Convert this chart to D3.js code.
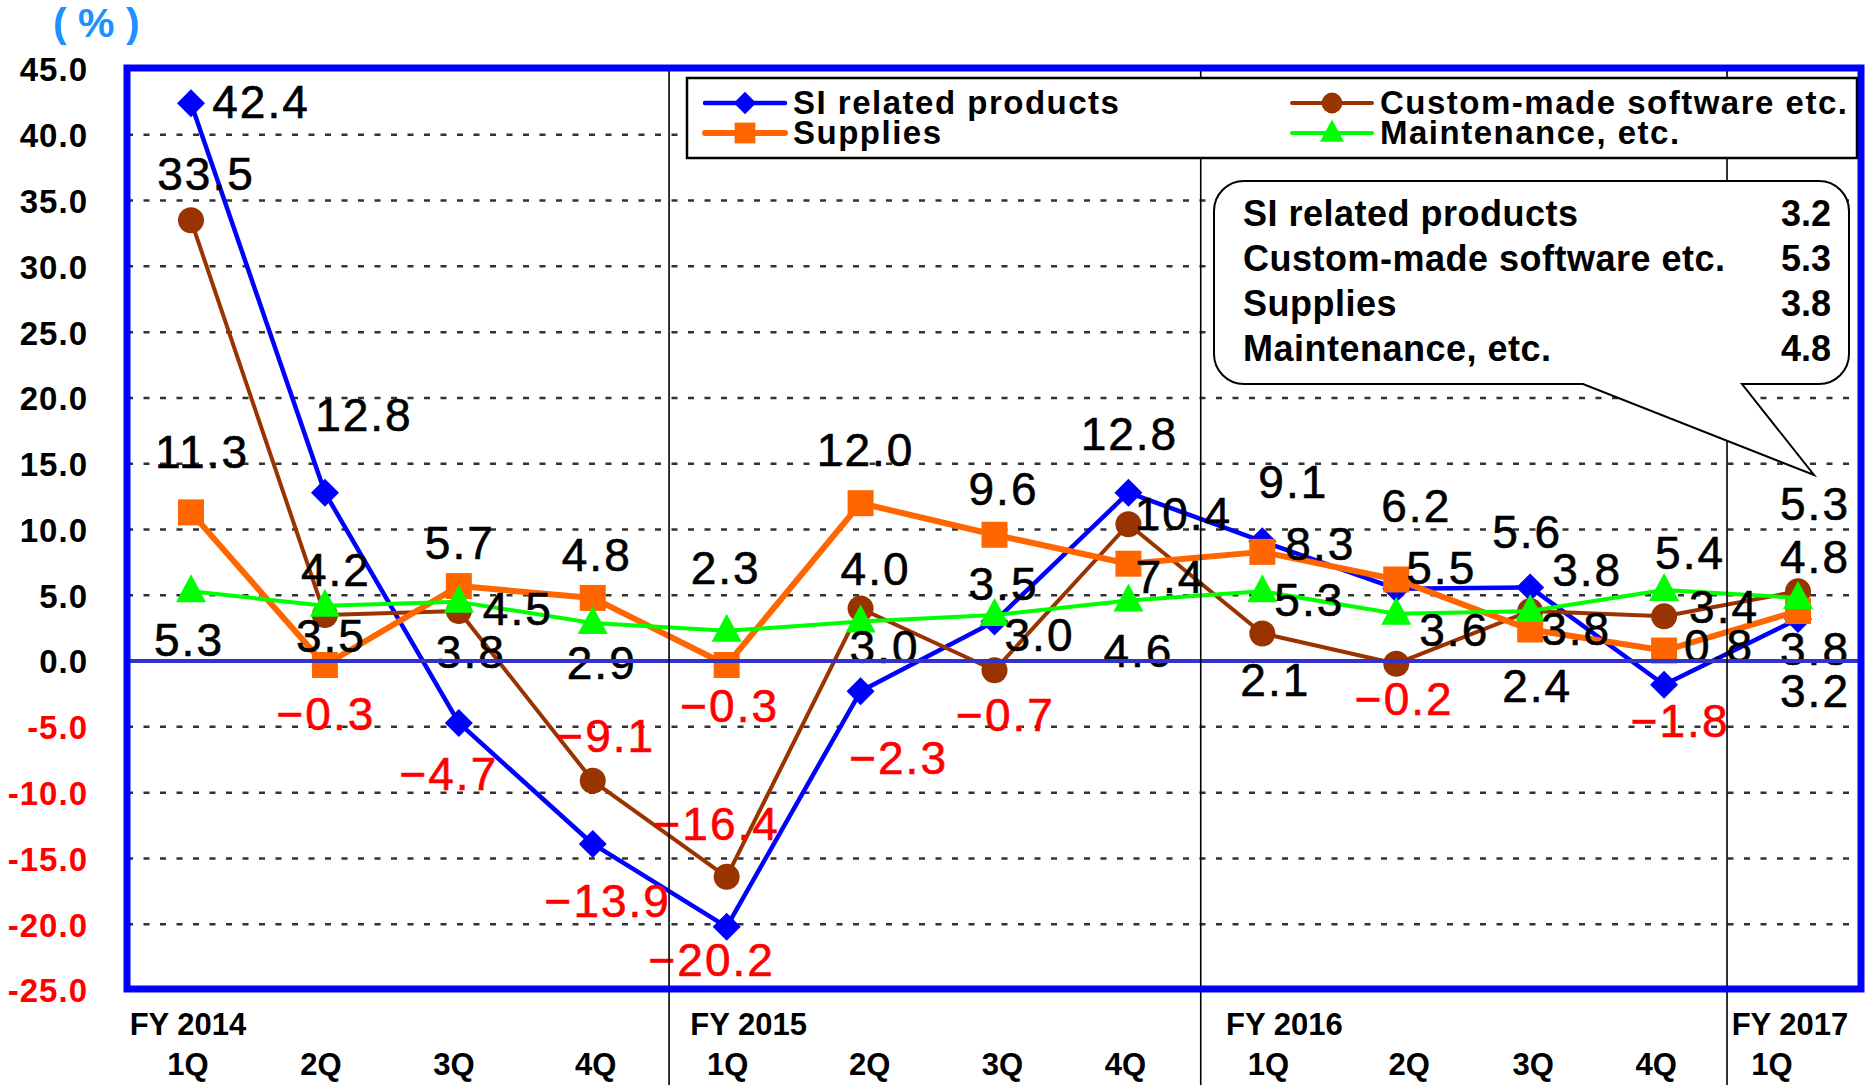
<!DOCTYPE html>
<html lang="en">
	<head>
		<meta charset="utf-8">
		<title>Sales growth by product (YoY, %)</title>
		<script src="https://d3js.org/d3.v7.min.js"></script>
		<style type="text/css">
			body {
				margin: 0;
				background: #fff;
			}
			svg {
				display: block;
				font-family: "Liberation Sans", Arial, sans-serif;
			}
		</style>
	</head>
	<body>
		<script type="text/javascript">
			//Quarters on the x axis
			var periods = ["FY 2014 1Q", "FY 2014 2Q", "FY 2014 3Q", "FY 2014 4Q",
				"FY 2015 1Q", "FY 2015 2Q", "FY 2015 3Q", "FY 2015 4Q",
				"FY 2016 1Q", "FY 2016 2Q", "FY 2016 3Q", "FY 2016 4Q",
				"FY 2017 1Q"];
			var quarterLabels = ["1Q", "2Q", "3Q", "4Q", "1Q", "2Q", "3Q", "4Q", "1Q", "2Q", "3Q", "4Q", "1Q"];
			var fiscalYears = ["FY 2014", "FY 2015", "FY 2016", "FY 2017"];
			var yearStarts = ["FY 2014 1Q", "FY 2015 1Q", "FY 2016 1Q", "FY 2017 1Q"];

			//Year on year change, %
			var siRelated = [42.4, 12.8, -4.7, -13.9, -20.2, -2.3, 3.0, 12.8, 9.1, 5.5, 5.6, -1.8, 3.2];
			var customMade = [33.5, 3.5, 3.8, -9.1, -16.4, 4.0, -0.7, 10.4, 2.1, -0.2, 3.8, 3.4, 5.3];
			var supplies = [11.3, -0.3, 5.7, 4.8, -0.3, 12.0, 9.6, 7.4, 8.3, 6.2, 2.4, 0.8, 3.8];
			var maintenance = [5.3, 4.2, 4.5, 2.9, 2.3, 3.0, 3.5, 4.6, 5.3, 3.6, 3.8, 5.4, 4.8];
			var seriesNames = ["SI related products", "Custom-made software etc.", "Supplies", "Maintenance, etc."];

			var yTickValues = [-25, -20, -15, -10, -5, 0, 5, 10, 15, 20, 25, 30, 35, 40, 45];
			var gridValues = [-20, -15, -10, -5, 5, 10, 15, 20, 25, 30, 35, 40];

			//Where each data label sits, relative to its point (dx, dy)
			var siNudge = [[70,-2],[39,-78],[-10,51],[15,56],[-15,33],[38,66],[45,13],[1,-59],[31,-60],[45,-21],[-3,-56],[16,36],[17,71]];
			var customNudge = [[15,-47],[6,20],[12,40],[13,-45],[-10,-53],[15,-40],[11,44],[55,-11],[13,46],[8,35],[46,17],[60,-10],[17,-88]];
			var suppliesNudge = [[11,-61],[1,48],[1,-44],[4,-43],[3,40],[5,-54],[9,-46],[42,13],[58,-8],[20,-74],[7,56],[55,-5],[17,37]];
			var maintNudge = [[-2,48],[11,-36],[59,7],[9,40],[-1,-63],[24,25],[9,-32],[10,50],[47,8],[58,16],[57,-42],[26,-38],[17,-41]];
			var quarterShift = [-3, -4, -5, 3, 1, 9, 8, -3, 6, 13, 3, -8, -26];
			var yearShift = [-3, 22, 22, -8];
			var separatorAt = [0.57, 0.54, 0.47];

			//Width and height
			var w = 1865;
			var h = 1085;
			var plot = {left: 127, right: 1861, top: 68, bottom: 989};

			var x = d3.scalePoint()
				.domain(periods)
				.range([191, 1798]);

			var y = d3.scaleLinear()
				.domain([-25, 45])
				.range([990, 69]);

			var fmt = d3.format(".1f");

			var series = [
				{name: seriesNames[0], values: siRelated, color: "#0000ff", width: 4.5, marker: "diamond", nudge: siNudge},
				{name: seriesNames[1], values: customMade, color: "#993300", width: 4, marker: "circle", nudge: customNudge},
				{name: seriesNames[2], values: supplies, color: "#ff6600", width: 6, marker: "square", nudge: suppliesNudge},
				{name: seriesNames[3], values: maintenance, color: "#00ff00", width: 4, marker: "triangle", nudge: maintNudge}
			];

			function markerPath(type, k) {
				if (type == "diamond") {
					var r = 14 * k;
					return "M0," + (-r) + "L" + r + ",0L0," + r + "L" + (-r) + ",0Z";
				}
				if (type == "square") {
					var s = 13 * k;
					return "M" + (-s) + "," + (-s) + "H" + s + "V" + s + "H" + (-s) + "Z";
				}
				if (type == "circle") {
					var c = 13 * k;
					return d3.symbol(d3.symbolCircle, Math.PI * c * c)();
				}
				return "M0," + (-17 * k) + "L" + (15 * k) + "," + (11 * k) + "L" + (-15 * k) + "," + (11 * k) + "Z";
			}

			//Create SVG element
			var svg = d3.select("body")
				.append("svg")
				.attr("width", w)
				.attr("height", h);

			//Unit
			svg.append("text")
				.attr("x", 53)
				.attr("y", 37)
				.attr("font-size", 41)
				.attr("font-weight", "bold")
				.attr("fill", "#2090ff")
				.text("( % )");

			//Dashed gridlines
			svg.append("g")
				.selectAll("line")
				.data(gridValues)
				.enter()
				.append("line")
				.attr("x1", plot.left)
				.attr("x2", plot.right)
				.attr("y1", function(d) { return y(d); })
				.attr("y2", function(d) { return y(d); })
				.attr("stroke", "#333")
				.attr("stroke-width", 2.5)
				.attr("stroke-dasharray", "6,10.5");

			//Y axis labels
			var yAxis = svg.append("g")
				.attr("transform", "translate(" + plot.left + ",0)")
				.call(d3.axisLeft(y)
					.tickValues(yTickValues)
					.tickSize(0)
					.tickPadding(39)
					.tickFormat(function(d) { return d.toFixed(1); }));
			yAxis.select(".domain").remove();
			yAxis.selectAll("text")
				.attr("font-family", null)
				.attr("font-size", 33)
				.attr("font-weight", "bold")
				.attr("letter-spacing", 1)
				.attr("dy", "0.36em")
				.attr("fill", function(d) { return d < 0 ? "#ff0000" : "#000"; });

			//Lines and markers
			var line = d3.line()
				.x(function(d, i) { return x(periods[i]); })
				.y(function(d) { return y(d); });

			series.forEach(function(s) {
				var g = svg.append("g");
				g.append("path")
					.attr("d", line(s.values))
					.attr("fill", "none")
					.attr("stroke", s.color)
					.attr("stroke-width", s.width)
					.attr("stroke-linejoin", "round");
				g.selectAll(".mark")
					.data(s.values)
					.enter()
					.append("path")
					.attr("class", "mark")
					.attr("transform", function(d, i) { return "translate(" + x(periods[i]) + "," + y(d) + ")"; })
					.attr("d", markerPath(s.marker, 1))
					.attr("fill", s.color);
			});

			//Data labels
			series.forEach(function(s) {
				svg.append("g")
					.selectAll("text")
					.data(s.values)
					.enter()
					.append("text")
					.attr("x", function(d, i) { return x(periods[i]) + s.nudge[i][0]; })
					.attr("y", function(d, i) { return y(d) + s.nudge[i][1]; })
					.attr("dy", "0.36em")
					.attr("text-anchor", "middle")
					.attr("font-size", 46)
					.attr("letter-spacing", 2)
					.attr("fill", function(d) { return d < 0 ? "#ff0000" : "#000"; })
					.attr("stroke", function(d) { return d < 0 ? "#ff0000" : "#000"; })
					.attr("stroke-width", 0.6)
					.text(function(d) { return fmt(d); });
			});

			//Zero line
			svg.append("line")
				.attr("x1", plot.left)
				.attr("x2", plot.right)
				.attr("y1", y(0))
				.attr("y2", y(0))
				.attr("stroke", "#3333cc")
				.attr("stroke-width", 4);

			//Fiscal year separators
			var step = x.step();
			svg.append("g")
				.selectAll("line")
				.data(yearStarts.slice(1))
				.enter()
				.append("line")
				.attr("x1", function(d, i) { return x(d) - step + step * separatorAt[i]; })
				.attr("x2", function(d, i) { return x(d) - step + step * separatorAt[i]; })
				.attr("y1", plot.top)
				.attr("y2", h)
				.attr("stroke", "#000")
				.attr("stroke-width", 1.6);

			//Plot frame
			svg.append("rect")
				.attr("x", plot.left)
				.attr("y", plot.top)
				.attr("width", plot.right - plot.left)
				.attr("height", plot.bottom - plot.top)
				.attr("fill", "none")
				.attr("stroke", "#0000ff")
				.attr("stroke-width", 7);

			//X axis labels
			svg.append("g")
				.selectAll("text")
				.data(periods)
				.enter()
				.append("text")
				.attr("x", function(d, i) { return x(d) + quarterShift[i]; })
				.attr("y", 1075)
				.attr("text-anchor", "middle")
				.attr("font-size", 31)
				.attr("font-weight", "bold")
				.text(function(d, i) { return quarterLabels[i]; });

			svg.append("g")
				.selectAll("text")
				.data(fiscalYears)
				.enter()
				.append("text")
				.attr("x", function(d, i) { return x(yearStarts[i]) + yearShift[i]; })
				.attr("y", 1035)
				.attr("text-anchor", "middle")
				.attr("font-size", 31)
				.attr("font-weight", "bold")
				.text(function(d) { return d; });

			//Legend
			var legend = svg.append("g");
			legend.append("rect")
				.attr("x", 687)
				.attr("y", 78)
				.attr("width", 1170)
				.attr("height", 80)
				.attr("fill", "#fff")
				.attr("stroke", "#000")
				.attr("stroke-width", 2.5);

			var legendPos = [[705, 103], [1292, 103], [705, 133], [1292, 133]];
			var item = legend.selectAll(".item")
				.data(series)
				.enter()
				.append("g")
				.attr("class", "item")
				.attr("transform", function(d, i) { return "translate(" + legendPos[i][0] + "," + legendPos[i][1] + ")"; });
			item.append("line")
				.attr("x1", 0)
				.attr("x2", 80)
				.attr("stroke", function(d) { return d.color; })
				.attr("stroke-width", function(d) { return d.width; })
				.attr("stroke-linecap", "round");
			item.append("path")
				.attr("transform", "translate(40,0)")
				.attr("d", function(d) { return markerPath(d.marker, 0.8); })
				.attr("fill", function(d) { return d.color; });
			item.append("text")
				.attr("x", 88)
				.attr("y", 11)
				.attr("font-size", 33)
				.attr("font-weight", "bold")
				.attr("letter-spacing", 1.5)
				.text(function(d) { return d.name; });

			//Callout with the latest quarter
			var cx0 = 1214, cy0 = 181, cx1 = 1849, cy1 = 384, cr = 30;
			var bubble = d3.path();
			bubble.moveTo(cx0 + cr, cy0);
			bubble.lineTo(cx1 - cr, cy0);
			bubble.arcTo(cx1, cy0, cx1, cy0 + cr, cr);
			bubble.lineTo(cx1, cy1 - cr);
			bubble.arcTo(cx1, cy1, cx1 - cr, cy1, cr);
			bubble.lineTo(1742, cy1);
			bubble.lineTo(1814, 475);
			bubble.lineTo(1583, cy1);
			bubble.lineTo(cx0 + cr, cy1);
			bubble.arcTo(cx0, cy1, cx0, cy1 - cr, cr);
			bubble.lineTo(cx0, cy0 + cr);
			bubble.arcTo(cx0, cy0, cx0 + cr, cy0, cr);
			bubble.closePath();

			var callout = svg.append("g");
			callout.append("path")
				.attr("d", bubble.toString())
				.attr("fill", "#fff")
				.attr("stroke", "#000")
				.attr("stroke-width", 2);

			var row = callout.selectAll(".row")
				.data(series)
				.enter()
				.append("g")
				.attr("class", "row")
				.attr("transform", function(d, i) { return "translate(0," + (226 + i * 45) + ")"; });
			row.append("text")
				.attr("x", 1243)
				.attr("font-size", 36)
				.attr("font-weight", "bold")
				.attr("letter-spacing", 0.5)
				.text(function(d) { return d.name; });
			row.append("text")
				.attr("x", 1831)
				.attr("text-anchor", "end")
				.attr("font-size", 36)
				.attr("font-weight", "bold")
				.text(function(d) { return fmt(d.values[d.values.length - 1]); });
		</script>
	</body>
</html>
